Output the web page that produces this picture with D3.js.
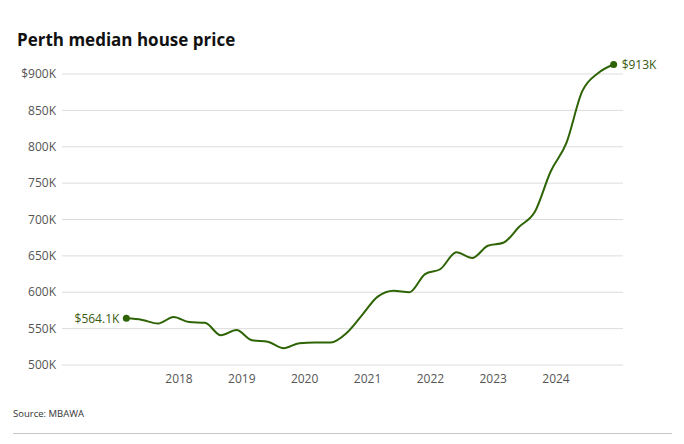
<!DOCTYPE html>
<html><head><meta charset="utf-8">
<script src="https://cdn.jsdelivr.net/npm/d3@7"></script>
<style>body{margin:0;background:#fff;font-family:"Open Sans","Noto Sans",sans-serif;}</style>
</head><body>
<svg id="c" width="684" height="444"></svg>
<script>
const dates = ["2017-03","2017-06","2017-09","2017-12","2018-03","2018-06","2018-09","2018-12",
"2019-03","2019-06","2019-09","2019-12","2020-03","2020-06","2020-09","2020-12",
"2021-03","2021-06","2021-09","2021-12","2022-03","2022-06","2022-09","2022-12",
"2023-03","2023-06","2023-09","2023-12","2024-03","2024-06","2024-09","2024-12"];
const prices = [564.1,562,557,566,559,558,541,548,534,532,523,530,531,531,544,569,
594,602,600,625,632,655,647,664,668,690,711,766,805,876,901,913];
const yTicks = [500,550,600,650,700,750,800,850,900];
const xTicks = [2018,2019,2020,2021,2022,2023,2024];

const parse = d3.timeParse("%Y-%m");
const data = dates.map((d,i)=>({date:parse(d), v:prices[i]}));
const svg = d3.select("#c");
const mLeft=62, mRight=623, mTop=74, mBottom=365;
const x = d3.scaleTime().domain([new Date(2018,0,1), new Date(2024,0,1)]).range([179,556]);
const y = d3.scaleLinear().domain([500,900]).range([mBottom, mTop]);

svg.append("text").attr("x",17).attr("y",46).text("Perth median house price")
  .attr("font-size",17).attr("font-weight",700).attr("fill","#111").attr("font-family","Open Sans, sans-serif");

const ga = svg.append("g");
ga.selectAll("line").data(yTicks).join("line")
  .attr("x1",mLeft).attr("x2",mRight).attr("y1",d=>y(d)).attr("y2",d=>y(d))
  .attr("stroke","#dcdcdc").attr("stroke-width",1);
ga.selectAll("text").data(yTicks).join("text")
  .attr("x",56).attr("y",d=>y(d)).attr("dy","0.35em").attr("text-anchor","end")
  .attr("font-size",12).attr("fill","#555")
  .text(d=> d===900 ? "$900K" : d+"K");

const gx = svg.append("g");
gx.selectAll("text").data(xTicks).join("text")
  .attr("x",d=>x(new Date(d,0,1))).attr("y",383).attr("text-anchor","middle")
  .attr("font-size",12).attr("fill","#555").text(d=>d);

const line = d3.line().x(d=>x(d.date)).y(d=>y(d.v)).curve(d3.curveMonotoneX);
svg.append("path").datum(data).attr("d",line).attr("fill","none")
  .attr("stroke","#2e6405").attr("stroke-width",2);

const first = data[0], last = data[data.length-1];
[first,last].forEach(d=>{
  svg.append("circle").attr("cx",x(d.date)).attr("cy",y(d.v)).attr("r",3.5).attr("fill","#2e6405");
});
svg.append("text").attr("x",x(first.date)-7).attr("y",y(first.v)).attr("dy","0.35em")
  .attr("text-anchor","end").attr("font-size",12).attr("fill","#3a5a10").text("$564.1K");
svg.append("text").attr("x",x(last.date)+8).attr("y",y(last.v)).attr("dy","0.35em")
  .attr("text-anchor","start").attr("font-size",12).attr("fill","#3a5a10").text("$913K");

svg.append("text").attr("x",13).attr("y",417).attr("font-size",9.5).attr("fill","#333")
  .text("Source: MBAWA");
svg.append("line").attr("x1",13).attr("x2",672).attr("y1",433.5).attr("y2",433.5)
  .attr("stroke","#c8c8cc").attr("stroke-width",1);
</script>
</body></html>
